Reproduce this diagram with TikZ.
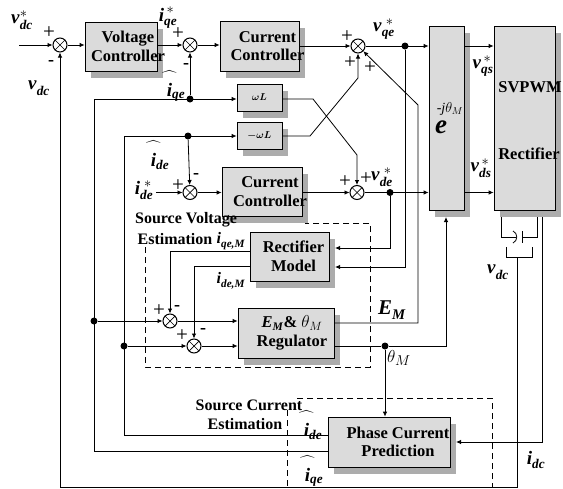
\documentclass[tikz,border=0pt]{standalone}
\usepackage{amsmath}
\usepackage{fontspec}
\setmainfont{Liberation Serif}
\usetikzlibrary{positioning, arrows.meta, shadows}
\newcommand{\bi}[1]{\textbf{\textit{#1}}}
\newcommand{\sig}[3]{$\bi{#1}_{\bi{#2}}^{#3}$}
\newcommand{\hati}[1]{$\overset{\makebox[0pt]{\raisebox{-4pt}{$\scriptstyle\widehat{\hphantom{iii}}$}}}{\bi{i}}_{\bi{#1}}$}

\begin{document}
\begin{tikzpicture}[
        x=1pt, y=-1pt,
        line width=0.8pt,
        >={Latex[length=5pt,width=4.5pt]},
        block/.style={draw, fill=gray!28, line width=0.8pt, inner sep=0pt, drop shadow={shadow xshift=6pt, shadow yshift=-7pt, fill=gray!65, opacity=1}},
        blocktext/.style={font=\fontsize{16.5}{18.5}\selectfont\bfseries, align=center, inner sep=0pt},
        sumnode/.style={circle, draw, line width=1pt, minimum size=14pt, inner sep=0pt, fill=white, path picture={
            \draw[line width=0.7pt] (path picture bounding box.north west) -- (path picture bounding box.south east);
            \draw[line width=0.7pt] (path picture bounding box.north east) -- (path picture bounding box.south west);}},
        dotnode/.style={circle, fill, minimum size=7pt, inner sep=0pt},
        signal/.style={font=\fontsize{19}{21}\selectfont, inner sep=0pt},
        sign/.style={font=\fontsize{21}{21}\selectfont, inner sep=0pt},
        minus/.style={font=\fontsize{18}{18}\selectfont\bfseries, inner sep=0pt},
        caption/.style={font=\fontsize{16}{18}\selectfont\bfseries, inner sep=0pt},
        estim/.style={dashed, dash pattern=on 6pt off 4pt, line width=0.7pt}
    ]
    \useasboundingbox (0,0) rectangle (563,488);

    % blocks
    \node (VC) [block, minimum width=72pt, minimum height=49pt, label={[blocktext, xshift=7pt]center:Voltage\\Controller}] at (121,46.5) {};
    \node (CCq) [block, minimum width=79pt, minimum height=50pt, label={[blocktext, xshift=8pt]center:Current\\Controller}] at (259.5,46) {};
    \node (CCd) [block, minimum width=80pt, minimum height=49pt, label={[blocktext, xshift=8pt]center:Current\\Controller}] at (262,191.5) {};
    \node (wLp) [block, minimum width=45pt, minimum height=27pt, label={[font=\normalsize]center:$\boldsymbol{\omega L}$}] at (259.5,97.5) {};
    \node (wLm) [block, minimum width=45pt, minimum height=27pt, label={[font=\normalsize]center:$\boldsymbol{-\omega L}$}] at (259.5,135.5) {};
    \node (RM) [block, minimum width=79pt, minimum height=49pt, label={[blocktext, xshift=4pt]center:Rectifier\\Model}] at (289.5,256.5) {};
    \node (EMR) [block, minimum width=96pt, minimum height=50pt, label={[blocktext, xshift=6pt]center:\textit{E}$_{\bi{M}}$\& $\theta_{M}$\\Regulator}] at (286,333) {};
    \node (PCP) [block, minimum width=122pt, minimum height=50pt, label={[blocktext, xshift=9pt]center:Phase Current\\Prediction}] at (389,442) {};
    \node (Park) [block, minimum width=35pt, minimum height=184pt] at (446.5,118) {};
    \node (PWM) [block, minimum width=61pt, minimum height=184pt] at (524.5,118) {};
    \node (PWMa) [blocktext] at (530,87) {SVPWM};
    \node (PWMb) [blocktext] at (529,154) {Rectifier};

    % summing points and junctions
    \node (S1) [sumnode] at (60,45) {};
    \node (S2) [sumnode] at (190,45) {};
    \node (S3) [sumnode] at (190,192.5) {};
    \node (S4) [sumnode] at (358,46) {};
    \node (S5) [sumnode] at (357,192.5) {};
    \node (S6) [sumnode] at (170,321) {};
    \node (S7) [sumnode] at (194,346) {};
    \node (Jq) [dotnode] at (190,99) {};
    \node (Jd) [dotnode] at (188,136) {};
    \node (Jvq) [dotnode] at (405,46) {};
    \node (Jvd) [dotnode] at (390,192.5) {};
    \node (Jiq) [dotnode] at (94,321) {};
    \node (Jid) [dotnode] at (124,346) {};
    \node (Jth) [dotnode] at (385,346) {};

    % free ends
    \coordinate (Vin) at (19,45);
    \coordinate (Iin) at (156,192.5);
    \coordinate (RMq) at (335,248);
    \coordinate (RMd) at (335,267);
    \coordinate (ParkIn) at (446,217);
    \coordinate (PCPin) at (456,442);

    % forward path
    \draw[->] (Vin) -- (S1);
    \draw[->] (S1) -- (VC.west |- S1);
    \draw[->] (VC.east |- S2) -- (S2);
    \draw[->] (S2) -- (CCq.west |- S2);
    \draw[->] (CCq.east |- S4) -- (S4);
    \draw[->] (S4) -- (Park.west |- S4);
    \draw[->] (Park.east |- S4) -- (PWM.west |- S4);
    \draw[->] (Iin) -- (S3);
    \draw[->] (S3) -- (CCd.west |- S3);
    \draw[->] (CCd.east |- S5) -- (S5);
    \draw[->] (S5) -- (Park.west |- S5);
    \draw[->] (Park.east |- S5) -- (PWM.west |- S5);

    % feedback
    \draw[->] (517,257) |- (S1 |- 0,487) -- (S1);
    \draw[->] (Jq) -- (S2);
    \draw[->] (PCP.west |- 0,451) -| (Jiq.center |- Jq) -- (wLp.west |- Jq);
    \draw[->] (PCP.west |- 0,435) -| (Jid.center |- Jd) -- (wLm.west |- Jd);
    \draw[->] (Jd) -- (S3);
    \draw[->] (wLp.east |- Jq) -- (313,99) -- (357,155) -- (S5);
    \draw[->] (wLm.east |- Jd) -- (310,136) -- (358,78) -- (S4);
    \draw[->] (EMR.east |- 0,323) -- (418,323) -- (418,105) -- (S4);
    \draw[->] (Jvq) |- (RMd);
    \draw[->] (Jvd) |- (RMq);
    \draw[->] (RM.west |- 0,251) -| (S6);
    \draw[->] (RM.west |- 0,266) -| (S7);
    \draw[->] (Jiq) -- (S6);
    \draw[->] (Jid) -- (S7);
    \draw[->] (S6) -- (EMR.west |- S6);
    \draw[->] (S7) -- (EMR.west |- S7);
    \draw (EMR.east |- Jth) -- (Jth);
    \draw[->] (Jth) -- (446,346) -- (ParkIn);
    \draw[->] (Jth) -- (PCP.north -| Jth);
    \draw[->] (542,217) |- (PCPin);

    % capacitor on the dc side
    \draw (501,217) |- (516,237);
    \draw (537,217) |- (522,237);
    \draw (513,231) .. controls (518,233) and (518,241) .. (513,243);
    \draw (522,231) -- (522,243);
    \draw (506,247) |- (532,257) -- (532,247);

    % estimation frames
    \draw[estim] (145,247) |- (370,367) |- (305,223);
    \draw[estim] (287,410) |- (492,487) |- (296,398);

    % labels
    \node (Lvdcs) [signal] at (22,20) {\sig{v}{dc}{*}};
    \node (Lvdc) [signal] at (39,88) {\sig{v}{dc}{}};
    \node (Liqes) [signal] at (168,18) {\sig{i}{qe}{\,*}};
    \node (Lhq) [signal] at (176,85) {\hati{qe}};
    \node (Lhd) [signal] at (160,154) {\hati{de}};
    \node (Lides) [signal] at (144,190) {\sig{i}{de}{\;*}};
    \node (Lvqes) [signal] at (384,29) {\sig{v}{qe}{\;*}};
    \node (Lvdes) [signal] at (382,177) {\sig{v}{de}{\;*}};
    \node (Lvqs) [signal] at (483,66) {\sig{v}{qs}{\,*}};
    \node (Lvds) [signal] at (481,168) {\sig{v}{ds}{\,*}};
    \node (Lexp) [font=\fontsize{27}{27}\selectfont, inner sep=0pt] at (441,127) {\bi{e}};
    \node (Lexpb) [font=\fontsize{14}{14}\selectfont, inner sep=0pt] at (450,109) {\textit{-j}$\theta_{M}$};
    \node (Liqm) [caption] at (231,241) {\sig{i}{qe,M}{}};
    \node (Lidm) [caption] at (231,281) {\sig{i}{de,M}{}};
    \node (Lem) [signal, font=\fontsize{21}{21}\selectfont] at (392,310) {\sig{E}{M}{}};
    \node (Lth) [signal] at (399,358) {$\theta_{M}$};
    \node (Lhdp) [signal] at (313,424) {\hati{de}};
    \node (Lhqp) [signal] at (314,470) {\hati{qe}};
    \node (Lidc) [signal] at (536,460) {\sig{i}{dc}{}};
    \node (Lvdcr) [signal] at (498,272) {\sig{v}{dc}{}};
    \node (Tsv) [caption] at (186,220) {Source Voltage};
    \node (Tsve) [caption] at (175,239) {Estimation};
    \node (Tsc) [caption] at (249,405) {Source Current};
    \node (Tsce) [caption] at (245,424) {Estimation};

    % signs
    \node (P1) [sign] at (49,33) {+};
    \node (M1) [minus] at (51,63) {-};
    \node (P2) [sign] at (178,34) {+};
    \node (M2) [minus] at (186,66) {-};
    \node (P3) [sign] at (178,186) {+};
    \node (M3) [minus] at (196,176) {-};
    \node (P4) [sign] at (347,37) {+};
    \node (P4b) [sign] at (350,63) {+};
    \node (P4c) [sign] at (370,68) {+};
    \node (P5) [sign] at (345,182) {+};
    \node (P5b) [sign] at (366,179) {+};
    \node (P6) [sign] at (159,311) {+};
    \node (M6) [minus] at (177,308) {-};
    \node (P7) [sign] at (182,336) {+};
    \node (M7) [minus] at (203,331) {-};
\end{tikzpicture}
\end{document}
